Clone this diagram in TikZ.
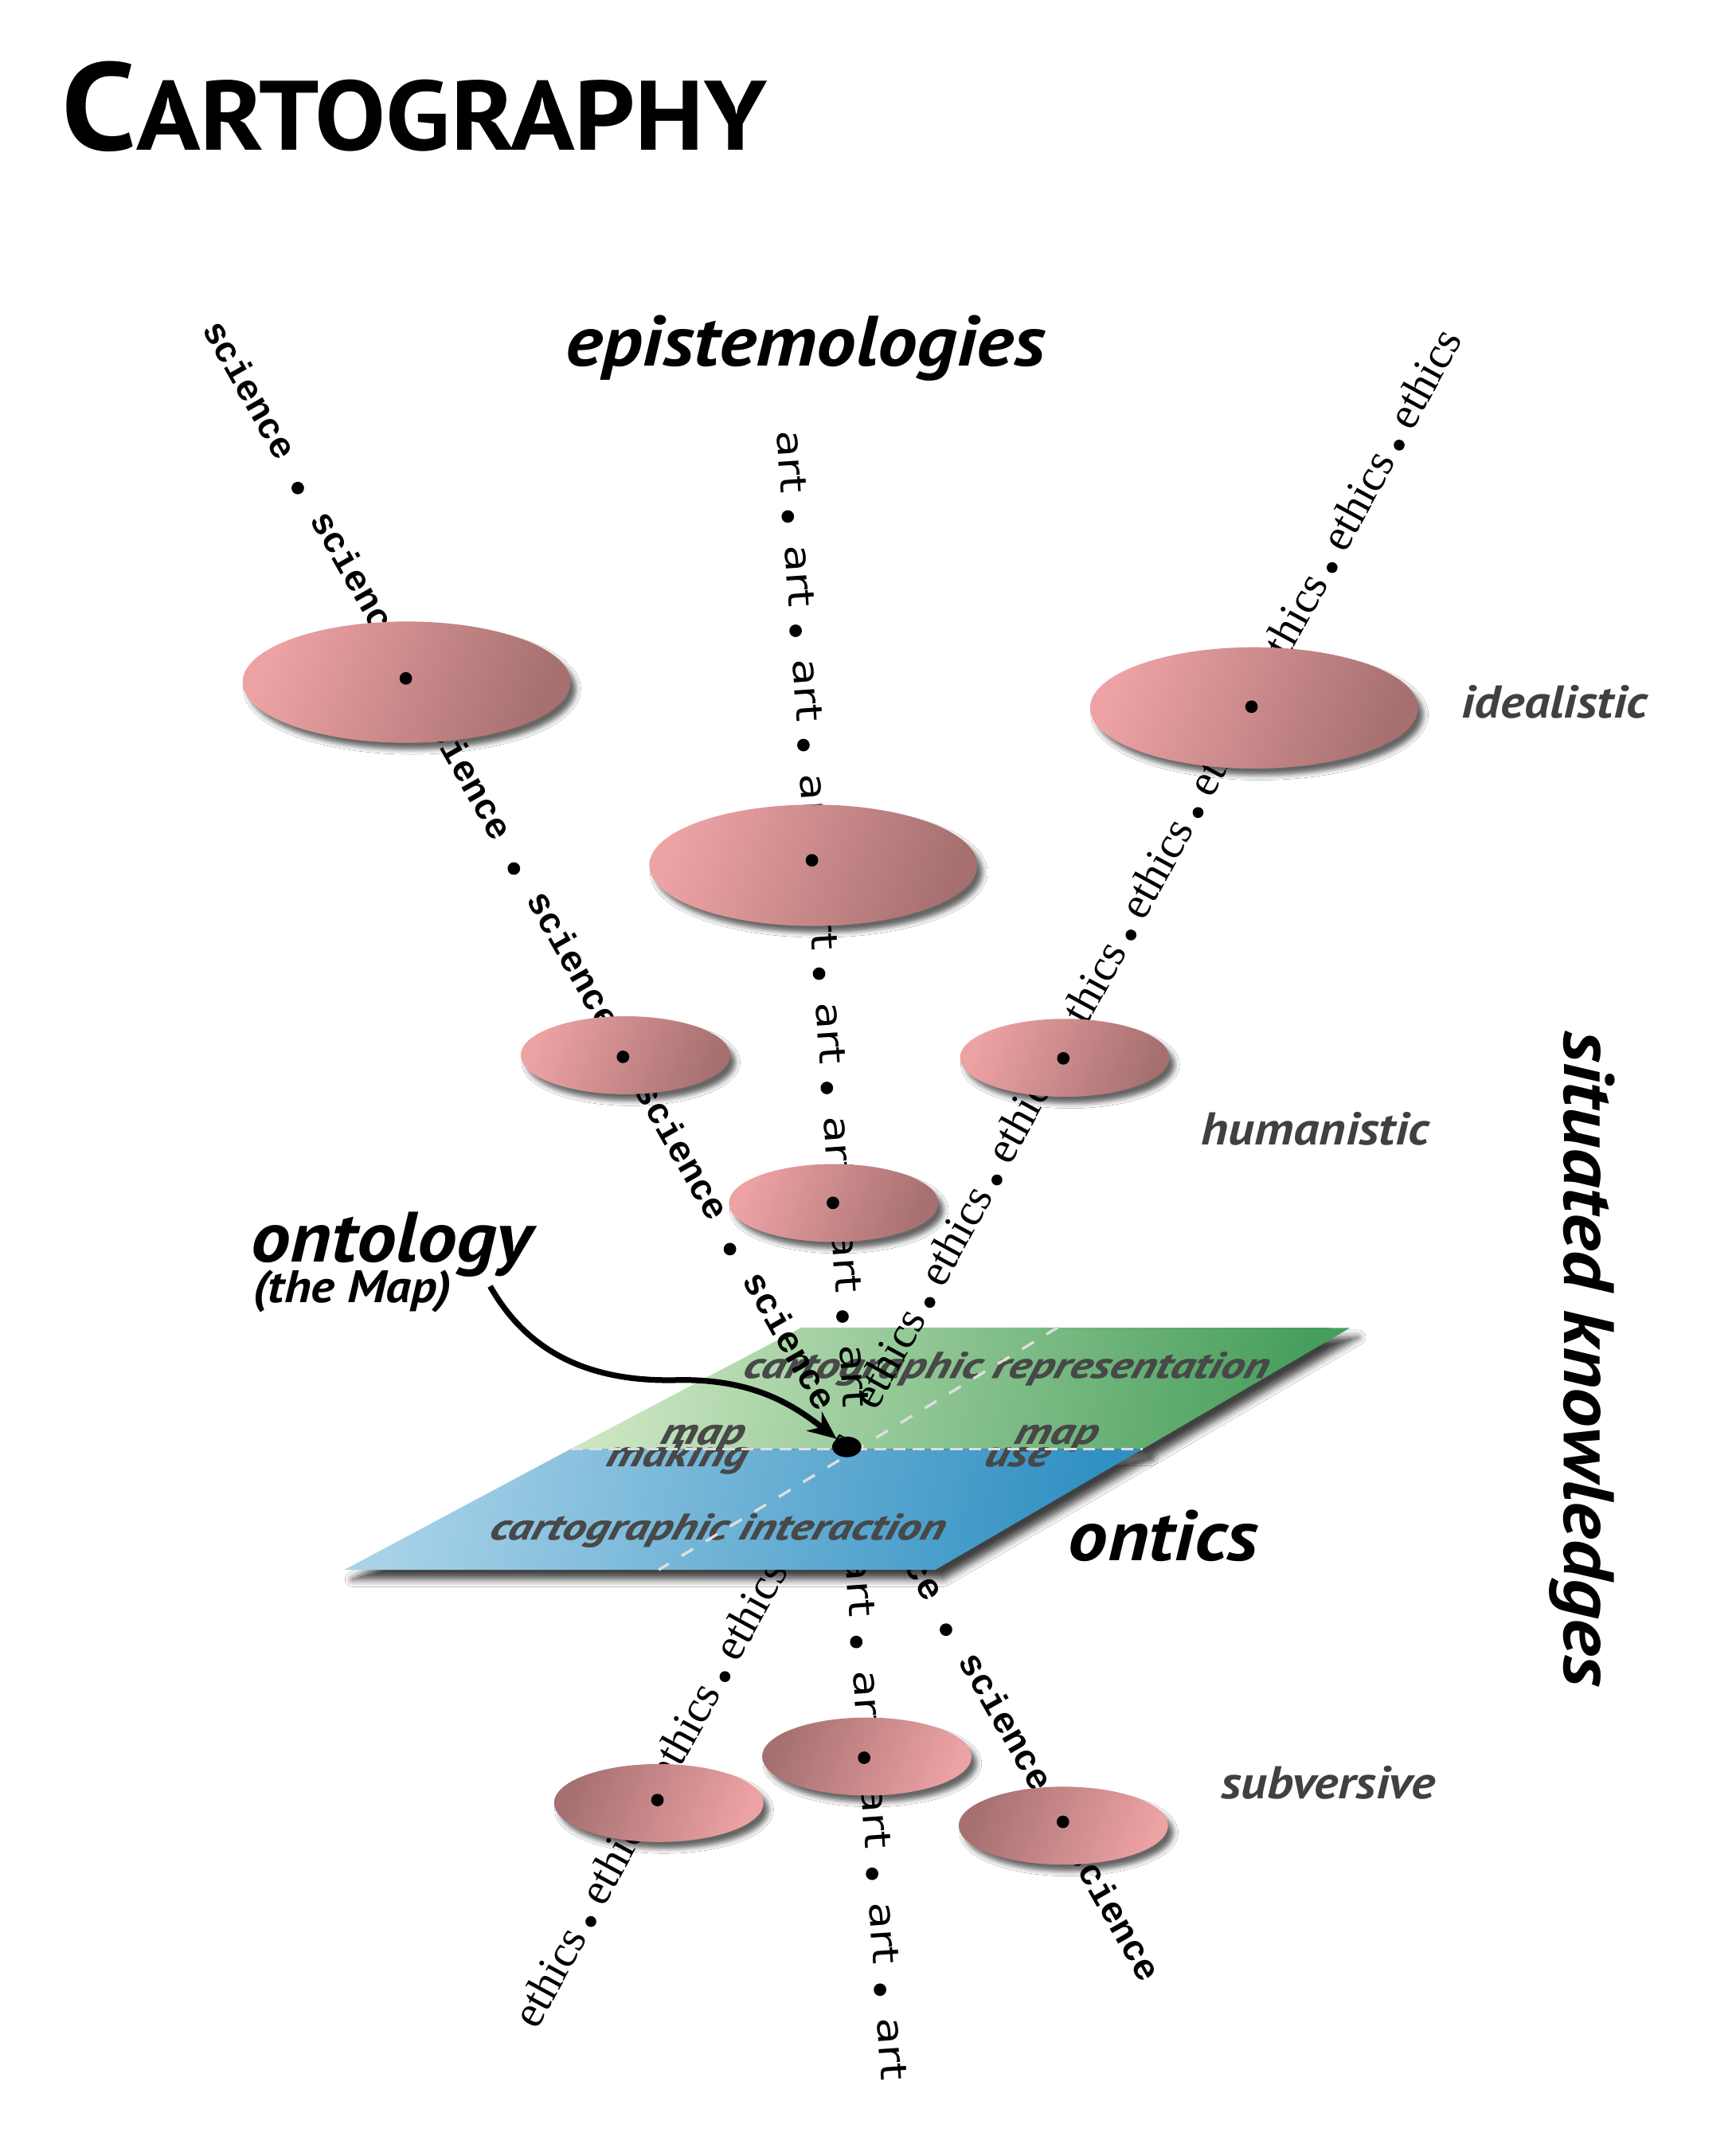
\documentclass[tikz,border=0pt]{standalone}
\usepackage{fontspec}
\usetikzlibrary{shapes.geometric,arrows.meta,shadows.blur}
\newfontfamily\ptsans{PT Sans}[FakeStretch=1.11]
\newfontfamily\titlefont{PT Sans}[FakeStretch=1.075]
\newfontfamily\scifont{Liberation Mono}
\newfontfamily\ethfont{Liberation Serif}
\newfontfamily\artfont{DejaVu Sans}[FakeStretch=1.2]
\newfontfamily\mapfont{PT Sans}[FakeStretch=1.26,FakeSlant=0.25,FakeBold=0.8]
\definecolor{pinkL}{RGB}{237,162,164}
\definecolor{pinkD}{RGB}{166,112,112}
\definecolor{greenL}{RGB}{202,229,192}
\definecolor{greenD}{RGB}{70,158,92}
\definecolor{blueL}{RGB}{168,210,232}
\definecolor{blueD}{RGB}{48,144,194}
\definecolor{greyT}{RGB}{64,64,64}
\definecolor{mapT}{RGB}{72,72,72}
\definecolor{dashC}{RGB}{222,222,222}
\tikzset{
  bigL/.style={anchor=base west, inner sep=0, font=\ptsans\bfseries\itshape\fontsize{29.9}{34}\selectfont},
  greyL/.style={anchor=base west, inner sep=0, text=greyT, font=\ptsans\bfseries\itshape\fontsize{19.3}{22}\selectfont},
  mapL/.style={anchor=base west, inner sep=0, text=mapT, font=\mapfont\bfseries\itshape\fontsize{15.5}{17}\selectfont},
  sciw/.style={anchor=mid west, inner sep=0, rotate=-60.4, font=\scifont\bfseries\fontsize{15.3}{17}\selectfont},
  artw/.style={anchor=mid west, inner sep=0, rotate=-86.1, font=\artfont\fontsize{15.4}{17}\selectfont},
  ethw/.style={anchor=mid west, inner sep=0, rotate=61.3, font=\ethfont\fontsize{19}{22}\selectfont},
  blt/.style={circle, fill=black, inner sep=0, minimum size=1.85mm},
  eblt/.style={circle, fill=black, inner sep=0, minimum size=1.6mm},
  pinkup/.style={ellipse, inner sep=0, left color=pinkL, right color=pinkD, shading angle=70,
     blur shadow={shadow xshift=0.8mm, shadow yshift=-1mm, shadow blur radius=0.7mm, shadow opacity=60}},
  pinkdown/.style={ellipse, inner sep=0, left color=pinkD, right color=pinkL, shading angle=70,
     blur shadow={shadow xshift=0.8mm, shadow yshift=-1mm, shadow blur radius=0.7mm, shadow opacity=60}},
  bigell/.style={minimum width=48.4mm, minimum height=17.9mm},
  smallell/.style={minimum width=30.9mm, minimum height=11.5mm},
  planeshadow/.style={blur shadow={shadow xshift=1.2mm, shadow yshift=-1.4mm, shadow blur radius=1.1mm, shadow opacity=75}},
  mapdash/.style={draw=dashC, line width=0.4mm, dash pattern=on 1.8mm off 1mm},
  diagdash/.style={draw=dashC, line width=0.4mm, dash pattern=on 2mm off 2.2mm},
  pointer/.style={line width=0.85mm, -{Stealth[length=4.2mm,width=3.6mm]}},
}
\begin{document}
\begin{tikzpicture}[x=0.2mm, y=-0.2mm]
\useasboundingbox (0,0) rectangle (1280.2,1578.6);
\fill[white] (0,0) rectangle (1280.2,1578.6);

% upper (green) plane
\path[planeshadow, left color=greenL, right color=greenD, shading angle=80]
  (591.4,979.2) -- (996,979.5) -- (843,1068.9) -- (421,1068.9) -- cycle;
\node[mapL] (crep) at (547,1016.4) {cartographic representation};

% science chain
\foreach \k in {-1,...,7}{
  \pgfmathsetmacro\d{\k*161.4+24}
  \node[sciw] (sw\k) at ({219.7+\d*0.4938},{360+\d*0.8696}) {science};
}
\foreach \k in {0,1,2,3,4,6,7}{
  \node[blt] (sb\k) at ({219.7+\k*161.4*0.4938},{360+\k*161.4*0.8696}) {};
}
% art chain (upper)
\foreach \k in {-1,...,7}{
  \pgfmathsetmacro\d{\k*84.5+21}
  \node[artw] (aw\k) at ({581.2+\d*0.0682},{381+\d*0.9977}) {art};
}
\foreach \k in {0,...,7}{
  \node[blt] (ab\k) at ({581.2+\k*84.5*0.0682},{381+\k*84.5*0.9977}) {};
}
% art chain (lower)
\foreach \k in {-1,...,3}{
  \pgfmathsetmacro\d{\k*85.7+21}
  \node[artw] (lw\k) at ({631.7+\d*0.0682},{1211.2+\d*0.9977}) {art};
}
\foreach \k in {0,...,3}{
  \node[blt] (lb\k) at ({631.7+\k*85.7*0.0682},{1211.2+\k*85.7*0.9977}) {};
}
% ethics chain (upper part)
\foreach \k in {-4,...,5}{
  \pgfmathsetmacro\d{\k*103-13}
  \node[ethw] (ew\k) at ({834.4-\d*0.4802},{689.7+\d*0.8771}) {ethics};
}
\foreach \k in {-4,...,3}{
  \node[eblt] (eb\k) at ({834.4-\k*103*0.4802},{689.7+\k*103*0.8771}) {};
}
% ethics chain (lower part)
\foreach \k in {6,...,9}{
  \pgfmathsetmacro\d{\k*103-13}
  \node[ethw] (ew\k) at ({831.6-\d*0.4802},{694.7+\d*0.8771}) {ethics};
}
\foreach \k in {6,7,8}{
  \node[eblt] (eb\k) at ({831.6-\k*103*0.4802},{694.7+\k*103*0.8771}) {};
}

% ellipses
\node[pinkup, bigell] (e1) at (300,503.2) {};
\node[pinkup, bigell] (e2) at (600,638.3) {};
\node[pinkup, bigell] (e3) at (925.2,522.2) {};
\node[pinkup, smallell] (e4) at (461.4,778.4) {};
\node[pinkup, smallell] (e5) at (785.5,780.3) {};
\node[pinkup, smallell] (e6) at (615,887.4) {};
\node[pinkdown, smallell] (e7) at (486,1330) {};
\node[pinkdown, smallell] (e8) at (639.5,1295.7) {};
\node[pinkdown, smallell] (e9) at (784.5,1346.7) {};
\node[blt] (d1) at (299.4,500.4) {};
\node[blt] (d2) at (599,634.6) {};
\node[blt] (d3) at (923.3,521.3) {};
\node[blt] (d4) at (459.6,779.6) {};
\node[blt] (d5) at (784.5,780.7) {};
\node[blt] (d6) at (614.5,887.3) {};
\node[blt] (d7) at (485,1327.8) {};
\node[blt] (d8) at (637.5,1296.6) {};
\node[blt] (d9) at (784.2,1343.9) {};

% lower (blue) plane
\path[planeshadow, left color=blueL, right color=blueD, shading angle=80]
  (421,1068.9) -- (843,1068.9) -- (690,1158) -- (254,1158) -- cycle;
\node[mapL] (cint) at (360,1135.6) {cartographic interaction};
\node[mapL] (mapl) at (486,1065) {map};
\node[mapL] (making) at (446,1081.5) {making};
\node[mapL] (mapr) at (747,1065) {map};
\node[mapL] (use) at (725,1081.5) {use};

% dashed map lines
\path[mapdash] (421,1068.9) -- (843,1068.9);
\path[diagdash] (780.6,979) -- (485.9,1158);

% ontology point and pointer
\node[ellipse, fill=black, inner sep=0, minimum width=4.3mm, minimum height=3.05mm] (onto) at (624.7,1067.3) {};
\coordinate (ontoarr) at (361.6,948.8);
\draw[pointer] (ontoarr) .. controls (385,990) and (425,1020) .. (500,1018)
   .. controls (555,1017) and (585,1036) .. (onto);

% labels
\node[anchor=base west, inner sep=0, font=\titlefont\bfseries] (title) at (45,110.6)
   {\fontsize{52.2}{60}\selectfont C\fontsize{41.4}{50}\selectfont ARTOGRAPHY};
\node[bigL] (epi) at (417,270) {epistemologies};
\node[bigL] (ont) at (185,931) {ontology};
\node[anchor=base west, inner sep=0, font=\ptsans\bfseries\itshape\fontsize{19.1}{22}\selectfont] (themap) at (186,960.6) {(the Map)};
\node[bigL] (ontics) at (788,1151) {ontics};
\node[bigL, rotate=-90] (sk) at (1154,760) {situated knowledges};
\node[greyL] (ideal) at (1078,529.7) {idealistic};
\node[greyL] (human) at (886,844.5) {humanistic};
\node[greyL] (subv) at (900.6,1326.6) {subversive};
\end{tikzpicture}
\end{document}
